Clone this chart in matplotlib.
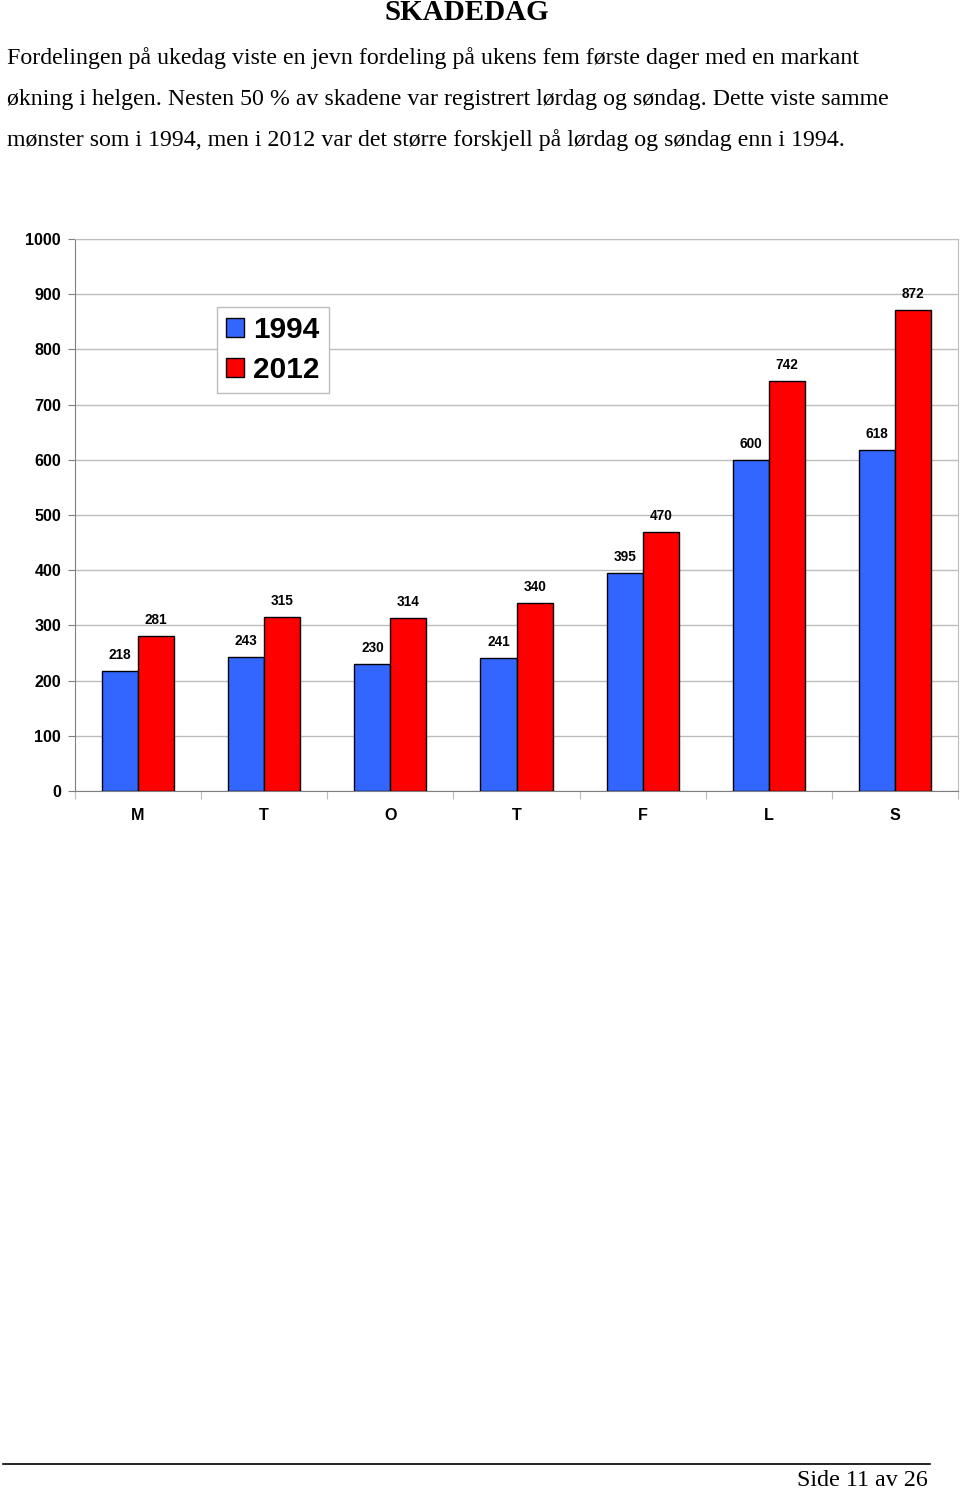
import matplotlib
matplotlib.use("Agg")
import matplotlib.pyplot as plt
import numpy as np
from matplotlib.patches import Patch

days = ["M", "T", "O", "T", "F", "L", "S"]
v1994 = [218, 243, 230, 241, 395, 600, 618]
v2012 = [281, 315, 314, 340, 470, 742, 872]
yticks = [0, 100, 200, 300, 400, 500, 600, 700, 800, 900, 1000]

W, H = 960, 1490
fig = plt.figure(figsize=(W / 100, H / 100), dpi=100)

def fx(px):
    return px / W

def fy(py):
    return 1 - py / H

serif = "Liberation Serif"
fig.text(fx(467), fy(13), "SKADEDAG", ha="center", va="center",
         family=serif, fontsize=21, fontweight="bold")
para = [
    "Fordelingen på ukedag viste en jevn fordeling på ukens fem første dager med en markant",
    "økning i helgen. Nesten 50 % av skadene var registrert lørdag og søndag. Dette viste samme",
    "mønster som i 1994, men i 2012 var det større forskjell på lørdag og søndag enn i 1994.",
]
for i, line in enumerate(para):
    fig.text(fx(7), fy(58 + 41 * i), line, ha="left", va="center",
             family=serif, fontsize=17.2)

ax = fig.add_axes([fx(75), fy(791), fx(958) - fx(75), fy(239) - fy(791)])
x = np.arange(len(days))
bw = 0.286
b1 = ax.bar(x - bw / 2, v1994, bw, color="#3366FF", edgecolor="black", linewidth=1, zorder=3, label="1994")
b2 = ax.bar(x + bw / 2, v2012, bw, color="#FF0000", edgecolor="black", linewidth=1, zorder=3, label="2012")
for bars, vals in ((b1, v1994), (b2, v2012)):
    for r, v in zip(bars, vals):
        ax.annotate(str(v), (r.get_x() + r.get_width() / 2, v), xytext=(0, 6.5),
                    textcoords="offset points", ha="center", va="bottom",
                    family="Liberation Sans", fontweight="bold", fontsize=9.8)

ax.set_xlim(-0.5, len(days) - 0.5)
ax.set_ylim(0, 1000)
ax.set_yticks(yticks)
ax.set_yticklabels([str(t) for t in yticks], family="Liberation Sans", fontweight="bold", fontsize=11.6)
ax.yaxis.grid(True, color="#BDBDBD", linewidth=1, zorder=0)
ax.set_xticks(np.arange(len(days) + 1) - 0.5)
ax.set_xticklabels([])
ax.tick_params(axis="x", length=6, color="#BDBDBD", direction="out")
ax.tick_params(axis="y", length=5, color="#808080", pad=5)
for i, d in enumerate(days):
    ax.text(i, -45, d, ha="center", va="center", family="Liberation Sans",
            fontweight="bold", fontsize=11.6, transform=ax.transData)
for s in ("top", "right"):
    ax.spines[s].set_color("#BDBDBD")
ax.spines["left"].set_color("#808080")
ax.spines["bottom"].set_color("#808080")

handles = [Patch(facecolor="#3366FF", edgecolor="black", label="1994"),
           Patch(facecolor="#FF0000", edgecolor="black", label="2012")]
leg = fig.legend(handles=handles, loc="upper left", bbox_to_anchor=(fx(217), fy(307)),
                 prop={"family": "Liberation Sans", "weight": "bold", "size": 21.5},
                 frameon=True, fancybox=False, edgecolor="#BDBDBD", framealpha=1,
                 handlelength=0.62, handleheight=0.62, handletextpad=0.3,
                 borderpad=0.3, labelspacing=0.4, borderaxespad=0)

fig.add_artist(plt.Line2D([fx(3), fx(930)], [fy(1464), fy(1464)], color="black", linewidth=1.2))
fig.text(fx(928), fy(1481), "Side 11 av 26", ha="right", va="center", family=serif, fontsize=17.4)

fig.savefig("out.png", dpi=100)
